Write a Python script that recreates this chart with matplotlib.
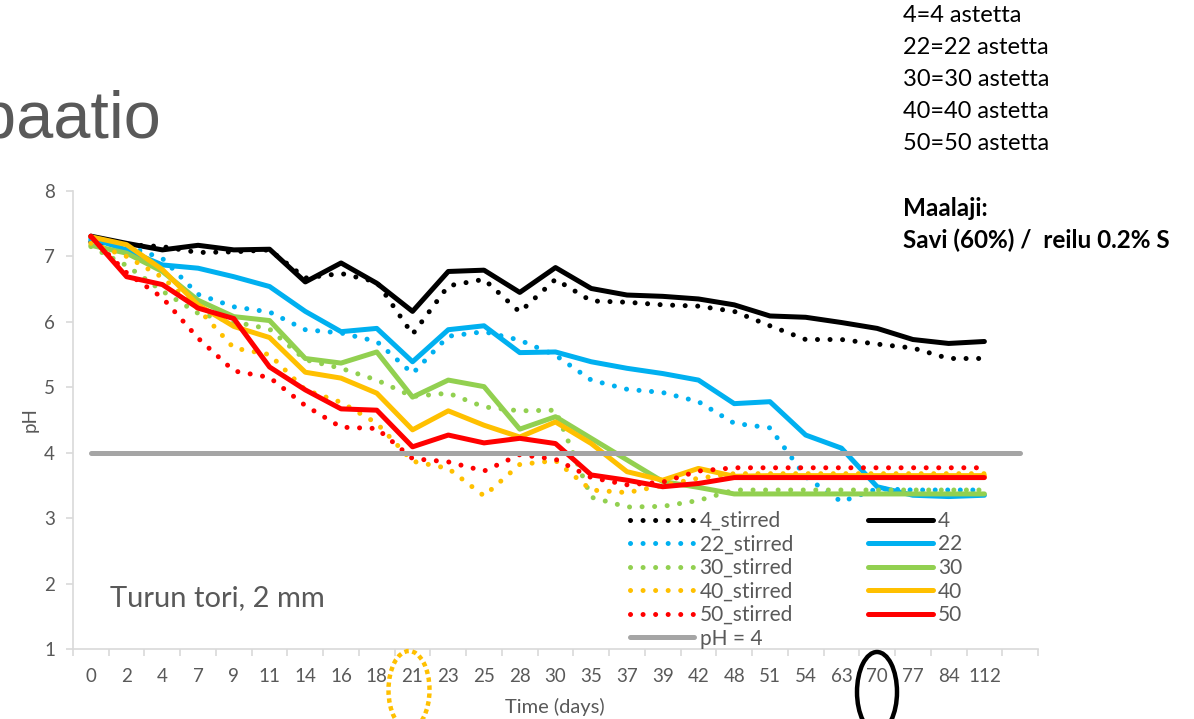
import matplotlib.pyplot as plt
from matplotlib.patches import Ellipse

# Aikapisteet (päivät), viimeinen tyhjä luokka
days = ['0', '2', '4', '7', '9', '11', '14', '16', '18', '21', '23', '25', '28',
        '30', '35', '37', '39', '42', '48', '51', '54', '63', '70', '77', '84', '112', '']

ph4 = [7.31, 7.20, 7.10, 7.17, 7.10, 7.11, 6.61, 6.90, 6.59, 6.16, 6.77, 6.79, 6.45,
       6.83, 6.51, 6.41, 6.39, 6.35, 6.26, 6.09, 6.07, 5.99, 5.90, 5.73, 5.67, 5.70]
ph4_s = [7.22, 7.18, 7.15, 7.06, 7.07, 7.10, 6.67, 6.74, 6.61, 5.81, 6.55, 6.65, 6.15,
         6.65, 6.32, 6.30, 6.26, 6.24, 6.16, 5.94, 5.73, 5.73, 5.66, 5.60, 5.44, 5.44]
ph22 = [7.28, 7.10, 6.87, 6.82, 6.69, 6.54, 6.16, 5.85, 5.90, 5.39, 5.88, 5.94, 5.53,
        5.54, 5.39, 5.29, 5.21, 5.11, 4.75, 4.78, 4.27, 4.07, 3.48, 3.35, 3.33, 3.35]
ph22_s = [7.25, 7.16, 6.97, 6.42, 6.23, 6.15, 5.88, 5.83, 5.70, 5.21, 5.78, 5.85, 5.72,
          5.49, 5.11, 4.97, 4.92, 4.78, 4.45, 4.38, 3.63, 3.25, 3.45, 3.43, 3.43, 3.43]
ph30 = [7.17, 7.05, 6.77, 6.33, 6.08, 6.02, 5.44, 5.37, 5.54, 4.85, 5.11, 5.01, 4.36,
        4.55, 4.22, 3.89, 3.56, 3.47, 3.37, 3.37, 3.37, 3.37, 3.37, 3.37, 3.37, 3.37]
ph30_s = [7.15, 6.86, 6.47, 6.13, 6.00, 5.89, 5.42, 5.29, 5.11, 4.86, 4.91, 4.70, 4.64,
          4.65, 3.32, 3.17, 3.18, 3.27, 3.43, 3.43, 3.43, 3.43, 3.43, 3.43, 3.43, 3.43]
ph40 = [7.30, 7.18, 6.80, 6.26, 5.93, 5.76, 5.23, 5.14, 4.91, 4.35, 4.64, 4.42, 4.24,
        4.47, 4.14, 3.71, 3.58, 3.76, 3.64, 3.65, 3.65, 3.65, 3.65, 3.65, 3.65, 3.65]
ph40_s = [7.20, 7.00, 6.68, 6.20, 5.60, 5.50, 4.96, 4.77, 4.45, 3.87, 3.76, 3.34, 3.82,
          3.88, 3.43, 3.39, 3.50, 3.61, 3.68, 3.68, 3.68, 3.68, 3.68, 3.68, 3.68, 3.68]
ph50 = [7.31, 6.69, 6.57, 6.21, 6.05, 5.31, 4.96, 4.67, 4.65, 4.09, 4.27, 4.15, 4.22,
        4.14, 3.66, 3.58, 3.48, 3.53, 3.62, 3.62, 3.62, 3.62, 3.62, 3.62, 3.62, 3.62]
ph50_s = [7.30, 6.75, 6.37, 5.75, 5.25, 5.15, 4.72, 4.39, 4.37, 3.91, 3.86, 3.72, 3.97,
          3.90, 3.62, 3.51, 3.55, 3.72, 3.77, 3.77, 3.77, 3.77, 3.77, 3.77, 3.77, 3.77]
raja = [4] * 27

temps = ['4', '22', '30', '40', '50']
solid = [ph4, ph22, ph30, ph40, ph50]
stirred = [ph4_s, ph22_s, ph30_s, ph40_s, ph50_s]
colors = ['#000000', '#00B0F0', '#92D050', '#FFC000', '#FF0000']

W, H = 1194, 719
fig = plt.figure(figsize=(W / 100, H / 100), dpi=100)
ax = fig.add_axes([73 / W, 70 / H, 965 / W, 458 / H])

lw = 3.6
h_dot, h_sol = [], []
for t, s, st, c in zip(temps, solid, stirred, colors):
    ld, = ax.plot(range(len(st)), st, color=c, lw=lw, linestyle=(0, (0.01, 2.5)),
                  dash_capstyle='round', label=t + '_stirred')
    ls, = ax.plot(range(len(s)), s, color=c, lw=lw, solid_joinstyle='round',
                  solid_capstyle='round', label=t)
    h_dot.append(ld)
    h_sol.append(ls)
lg, = ax.plot(range(len(raja)), raja, color='#A5A5A5', lw=lw,
              solid_capstyle='round', label='pH = 4')

ax.set_xlim(-0.5, 26.5)
ax.set_ylim(1, 8)

grey = '#595959'
spine = '#D9D9D9'
for side in ['top', 'right']:
    ax.spines[side].set_visible(False)
for side in ['left', 'bottom']:
    ax.spines[side].set_color(spine)
    ax.spines[side].set_linewidth(1.2)

ax.set_xticks(range(27))
ax.set_xticklabels(days)
ax.set_xticks([i - 0.5 for i in range(28)], minor=True)
ax.tick_params(axis='x', which='major', length=0, pad=14, labelsize=13.5, labelcolor=grey)
ax.tick_params(axis='x', which='minor', length=5, width=1.2, color=spine)
ax.set_yticks(range(1, 9))
ax.tick_params(axis='y', length=5, width=1.2, color=spine, pad=8, labelsize=13.5, labelcolor=grey)
for lab in ax.get_xticklabels() + ax.get_yticklabels():
    lab.set_family('Lato')

hs = h_dot + [lg] + h_sol
leg = ax.legend(hs, [h.get_label() for h in hs],
                ncol=2, loc='upper left', bbox_to_anchor=(0.577, 0.3015), frameon=False,
                prop={'family': 'Lato', 'size': 15}, handlelength=3.1, handletextpad=0.25,
                columnspacing=3.6, labelspacing=0.17, borderpad=0, borderaxespad=0)
for txt in leg.get_texts():
    txt.set_color(grey)

fig.text(30 / W, 1 - 420 / H, 'pH', rotation=90, ha='center', va='center',
         fontsize=13.5, color=grey, family='Lato')
fig.text(555 / W, 1 - 707 / H, 'Time (days)', ha='center', va='center',
         fontsize=14.5, color=grey, family='Lato')
fig.text(110 / W, 1 - 598 / H, 'Turun tori, 2 mm', ha='left', va='center',
         fontsize=21, color=grey, family='Lato')

# Otsikko leikkautuu vasemmasta reunasta kuten alkuperäisessä
fig.text(162 / W, 1 - 137 / H, 'Inkubaatio', ha='right', va='baseline',
         fontsize=48, color=grey, family='Liberation Sans')

selitys = ['4=4 astetta', '22=22 astetta', '30=30 astetta', '40=40 astetta', '50=50 astetta']
for i, s in enumerate(selitys):
    fig.text(903 / W, 1 - (15 + 32 * i) / H, s, ha='left', va='center',
             fontsize=17, color='black', family='Lato')
fig.text(903 / W, 1 - 208 / H, 'Maalaji:', ha='left', va='center',
         fontsize=17.5, fontweight='bold', family='Lato')
fig.text(903 / W, 1 - 240 / H, 'Savi (60%) /  reilu 0.2% S', ha='left', va='center',
         fontsize=17.5, fontweight='bold', family='Lato')

# Korostusrenkaat
fig.add_artist(Ellipse((409 / W, 1 - 690 / H), 41 / W, 78 / H, transform=fig.transFigure,
                       fill=False, edgecolor='#FFC000', lw=3.2, linestyle=(0, (1, 0.8))))
fig.add_artist(Ellipse((877 / W, 1 - 692 / H), 40 / W, 80 / H, transform=fig.transFigure,
                       fill=False, edgecolor='black', lw=3.2))

fig.savefig('out.png', dpi=100)
